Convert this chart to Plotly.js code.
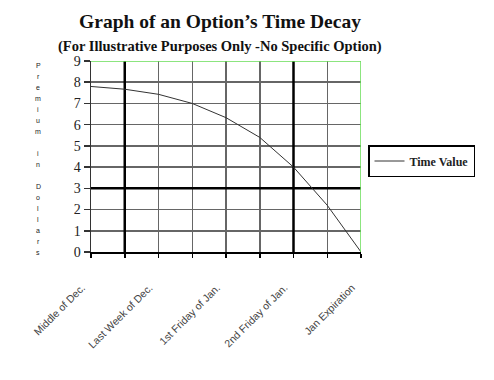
<!DOCTYPE html>
<html>
<head>
<meta charset="utf-8">
<script src="https://cdn.plot.ly/plotly-3.0.1.min.js"></script>
<style>html,body{margin:0;padding:0;background:#fff;}#chart{width:494px;height:380px;}</style>
</head>
<body>
<div id="chart"></div>
<script>
// Data
const positions = [0, 1, 2, 3, 4, 5, 6, 7, 8];
const timeValue = [7.8, 7.67, 7.43, 7.0, 6.33, 5.4, 4.0, 2.2, 0];
const tickLabels = ["Middle of Dec.", "", "Last Week of Dec.", "", "1st Friday of Jan.", "", "2nd Friday of Jan.", "", "Jan Expiration"];
const yTicks = [0, 1, 2, 3, 4, 5, 6, 7, 8, 9];
const seriesName = "Time Value";
const yTitle = "Premium in Dollars";
const mainTitle = "Graph of an Option\u2019s Time Decay";
const subTitle = "(For Illustrative Purposes Only -No Specific Option)";

const W = 494, H = 380;
const L = 91, R = 361, T = 61, B = 252;
const pw = R - L, ph = B - T;

const trace = {
  x: positions, y: timeValue, type: 'scatter', mode: 'lines', name: seriesName,
  line: {color: '#333333', width: 1}
};

const annotations = [];
// stacked vertical y-axis title, one letter per row
for (let i = 0; i < yTitle.length; i++) {
  const ch = yTitle[i];
  if (ch === ' ') continue;
  const ypx = 65.5 + i * 11;
  annotations.push({
    text: ch, xref: 'paper', yref: 'paper', x: (38 - L) / pw, y: (B - ypx) / ph,
    xanchor: 'center', yanchor: 'middle', showarrow: false,
    font: {family: 'Liberation Sans', size: 7, color: '#222'}
  });
}
annotations.push({
  text: '<b>' + subTitle + '</b>', xref: 'paper', yref: 'paper',
  x: (220 - L) / pw, y: (B - 46) / ph, xanchor: 'center', yanchor: 'middle', showarrow: false,
  font: {family: 'Liberation Serif', size: 14.5, color: '#111'}
});

const shapes = [
  {type: 'line', xref: 'x', yref: 'y', x0: 1, x1: 1, y0: 0, y1: 9, line: {color: '#000', width: 2.5}, layer: 'between'},
  {type: 'line', xref: 'x', yref: 'y', x0: 6, x1: 6, y0: 0, y1: 9, line: {color: '#000', width: 2.5}, layer: 'between'},
  {type: 'line', xref: 'x', yref: 'y', x0: 0, x1: 8, y0: 3, y1: 3, line: {color: '#000', width: 2.5}, layer: 'between'},
  {type: 'line', xref: 'x', yref: 'y', x0: 0, x1: 8, y0: 9, y1: 9, line: {color: '#66dd55', width: 1.5}},
  {type: 'line', xref: 'x', yref: 'y', x0: 8, x1: 8, y0: 0, y1: 9, line: {color: '#66dd55', width: 1.5}}
];

const layout = {
  width: W, height: H,
  margin: {l: L, r: W - R, t: T, b: H - B, pad: 0},
  paper_bgcolor: '#fff', plot_bgcolor: '#fff',
  title: {
    text: '<b>' + mainTitle + '</b>', xref: 'container', yref: 'container',
    x: 220 / W, y: 1 - 21 / H, xanchor: 'center', yanchor: 'middle',
    font: {family: 'Liberation Serif', size: 19.5, color: '#111'}
  },
  xaxis: {
    range: [0, 8], tickmode: 'array', tickvals: positions, ticktext: tickLabels,
    tickangle: -45, ticks: 'outside', ticklen: 4, tickwidth: 1.5, tickcolor: '#000',
    ticklabelstandoff: 20, ticklabelshift: -9,
    showgrid: true, gridcolor: '#666', gridwidth: 1.5,
    showline: true, linecolor: '#000', linewidth: 1.5, zeroline: false,
    tickfont: {family: 'Liberation Sans', size: 10.5, color: '#444'}, fixedrange: true
  },
  yaxis: {
    range: [0, 9], tickmode: 'array', tickvals: yTicks,
    ticks: 'outside', ticklen: 6, tickwidth: 1.5, tickcolor: '#333',
    showgrid: true, gridcolor: '#666', gridwidth: 1.5,
    showline: true, linecolor: '#333', linewidth: 1.5, zeroline: false,
    tickfont: {family: 'Liberation Serif', size: 14, color: '#222'}, fixedrange: true
  },
  showlegend: true,
  legend: {
    x: (368 - L) / pw, y: (B - 145) / ph, xanchor: 'left', yanchor: 'top',
    bordercolor: '#000', borderwidth: 1.5, bgcolor: '#fff',
    font: {family: 'Liberation Serif', size: 12, color: '#222', weight: 'bold'}
  },
  shapes: shapes,
  annotations: annotations
};

Plotly.newPlot('chart', [trace], layout, {displayModeBar: false, staticPlot: true});
</script>
</body>
</html>
